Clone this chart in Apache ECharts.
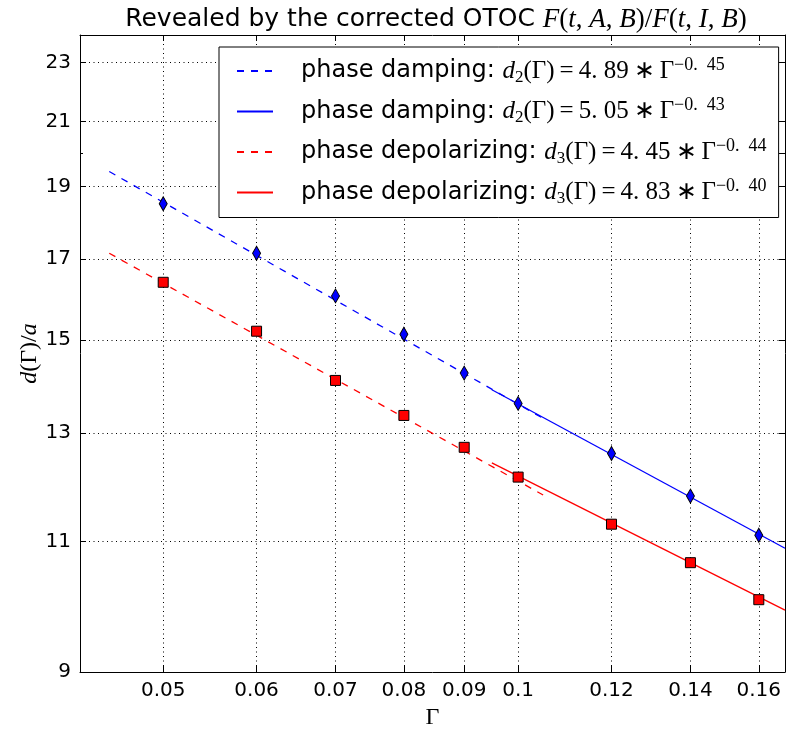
<!DOCTYPE html>
<html><head><meta charset="utf-8">
<script src="https://cdn.jsdelivr.net/npm/echarts@6/dist/echarts.min.js"></script>
<style>html,body{margin:0;padding:0;background:#fff}#c{width:789px;height:730px}</style>
</head><body><div id="c"></div>
<script>
// ---- data ----
const gammaValues = [0.05, 0.06, 0.07, 0.08, 0.09, 0.1, 0.12, 0.14, 0.16];
const dampingValues = [18.51, 17.15, 16.06, 15.14, 14.26, 13.61, 12.60, 11.80, 11.11];
const depolarizingValues = [16.40, 15.21, 14.10, 13.36, 12.72, 12.15, 11.30, 10.65, 10.06];
const dampingFitDashed = [[0.045, 19.45], [0.105, 13.30]];
const dampingFitSolid = [[0.095, 13.90], [0.1684, 10.89]];
const depolFitDashed = [[0.045, 17.15], [0.105, 11.82]];
const depolFitSolid = [[0.095, 12.42], [0.1684, 9.90]];
const xTicks = [0.05, 0.06, 0.07, 0.08, 0.09, 0.1, 0.12, 0.14, 0.16];
const yTicks = [9, 11, 13, 15, 17, 19, 21, 23];
const yMinorTicks = [20];
const xRange = [0.0425, 0.1684];
const yRange = [9, 24];
const legendNames = ['damping-fit-a', 'damping-fit-b', 'depol-fit-a', 'depol-fit-b'];
const legendLabels = {
  'damping-fit-a': '{t|phase damping: }{m|d}{sub|2}{r|(Γ)}{op|=}{r|4. 89}{op|∗}{r|Γ}{sup|−0.  45}',
  'damping-fit-b': '{t|phase damping: }{m|d}{sub|2}{r|(Γ)}{op|=}{r|5. 05}{op|∗}{r|Γ}{sup|−0.  43}',
  'depol-fit-a': '{t|phase depolarizing: }{m|d}{sub|3}{r|(Γ)}{op|=}{r|4. 45}{op|∗}{r|Γ}{sup|−0.  44}',
  'depol-fit-b': '{t|phase depolarizing: }{m|d}{sub|3}{r|(Γ)}{op|=}{r|4. 83}{op|∗}{r|Γ}{sup|−0.  40}'
};

const SANS = 'DejaVu Sans';
const SERIF = 'Liberation Serif';
const richText = {
  t: {fontFamily: SANS, fontSize: 24, color: '#000', lineHeight: 30, padding: [0, 0, 0, 23]},
  m: {fontFamily: SERIF, fontStyle: 'italic', fontSize: 25, color: '#000', lineHeight: 30},
  r: {fontFamily: SERIF, fontSize: 25, color: '#000', lineHeight: 30},
  op: {fontFamily: SERIF, fontSize: 25, color: '#000', lineHeight: 30, padding: [0, 5, 0, 5]},
  sub: {fontFamily: SERIF, fontSize: 17, color: '#000', verticalAlign: 'bottom', lineHeight: 17},
  sup: {fontFamily: SERIF, fontSize: 18, color: '#000', verticalAlign: 'top', lineHeight: 18}
};

const chart = echarts.init(document.getElementById('c'), null, {renderer: 'canvas'});
const axisLine = {show: true, onZero: false, lineStyle: {color: '#000', width: 1}};
const grid = {left: 80, right: 4, top: 35, bottom: 58, containLabel: false, outerBoundsMode: 'none'};

function xAxisCfg(pos, withLabels) {
  return {
    type: 'log', logBase: 10, min: xRange[0], max: xRange[1], position: pos, gridIndex: 0,
    axisLine: axisLine,
    axisTick: {show: true, inside: true, length: 6, customValues: xTicks, lineStyle: {color: '#000'}},
    axisLabel: {show: withLabels, customValues: xTicks, formatter: v => String(+v.toFixed(2)),
      fontFamily: SANS, fontSize: 20, color: '#000', margin: 9},
    splitLine: {show: withLabels, lineStyle: {color: '#000', type: [1, 3.5], width: 1}},
    minorTick: {show: false}, minorSplitLine: {show: false},
    name: withLabels ? 'Γ' : '', nameLocation: 'middle', nameGap: 34, nameMoveOverlap: false,
    nameTextStyle: {fontFamily: SERIF, fontSize: 24, color: '#000'}
  };
}
function yAxisCfg(pos, ticks, withLabels, tickLen, showLine) {
  return {
    type: 'log', logBase: 10, min: yRange[0], max: yRange[1], position: pos, gridIndex: 0,
    axisLine: Object.assign({}, axisLine, {show: showLine}),
    axisTick: {show: true, inside: true, length: tickLen, customValues: ticks, lineStyle: {color: '#000'}},
    axisLabel: {show: withLabels, customValues: ticks, formatter: v => String(Math.round(v)),
      fontFamily: SANS, fontSize: 20, color: '#000', margin: 9},
    splitLine: {show: withLabels, lineStyle: {color: '#000', type: [1, 3.5], width: 1}},
    minorTick: {show: false}, minorSplitLine: {show: false},
    name: withLabels ? '{m|d}{r|(Γ)/}{m|a}' : '', nameLocation: 'middle', nameGap: 38, nameRotate: 90,
    nameMoveOverlap: false,
    nameTextStyle: {rich: {m: {fontFamily: SERIF, fontStyle: 'italic', fontSize: 24, color: '#000'},
                           r: {fontFamily: SERIF, fontSize: 24, color: '#000'}}}
  };
}

const lineSeries = (name, data, color, dashed) => ({
  name: name, type: 'line', data: data, xAxisIndex: 0, yAxisIndex: 0,
  showSymbol: false, symbol: 'none', silent: true, z: 2,
  lineStyle: {color: color, width: 1.3, type: dashed ? [7, 7] : 'solid'},
  itemStyle: {color: color}
});

const option = {
  animation: false,
  backgroundColor: '#fff',
  title: {
    text: '{t|Revealed by the corrected OTOC }{m|F}{r|(}{m|t}{r|, }{m|A}{r|, }{m|B}{r|)/}{m|F}{r|(}{m|t}{r|, }{m|I}{r|, }{m|B}{r|)}',
    left: 431, top: 1, textAlign: 'center',
    textStyle: {fontWeight: 'normal', rich: {
      t: {fontFamily: SANS, fontSize: 25, fontWeight: 'normal', color: '#000'},
      m: {fontFamily: SERIF, fontStyle: 'italic', fontWeight: 'normal', fontSize: 27, color: '#000'},
      r: {fontFamily: SERIF, fontWeight: 'normal', fontSize: 27, color: '#000'}
    }}
  },
  grid: grid,
  xAxis: [xAxisCfg('bottom', true), xAxisCfg('top', false)],
  yAxis: [yAxisCfg('left', yTicks, true, 6, true), yAxisCfg('right', yTicks.concat(yMinorTicks), false, 6, true),
          yAxisCfg('left', yMinorTicks, false, 3, false)],
  legend: {
    orient: 'vertical', left: 219, top: 47,
    data: legendNames, itemWidth: 36, itemHeight: 14, itemGap: 10.5,
    padding: [9, 12, 10, 17],
    borderColor: '#000', borderWidth: 1, backgroundColor: '#fff', borderRadius: 0,
    formatter: name => legendLabels[name],
    textStyle: {rich: richText},
    itemStyle: {opacity: 0, borderWidth: 0},
    selectedMode: false
  },
  series: [
    lineSeries(legendNames[0], dampingFitDashed, '#0000ff', true),
    lineSeries(legendNames[1], dampingFitSolid, '#0000ff', false),
    lineSeries(legendNames[2], depolFitDashed, '#ff0000', true),
    lineSeries(legendNames[3], depolFitSolid, '#ff0000', false),
    {name: 'damping-data', type: 'scatter', data: gammaValues.map((g, i) => [g, dampingValues[i]]),
     symbol: 'diamond', symbolSize: [8, 14], z: 5,
     itemStyle: {color: '#0000ff', borderColor: '#000', borderWidth: 1, opacity: 1}},
    {name: 'depol-data', type: 'scatter', data: gammaValues.map((g, i) => [g, depolarizingValues[i]]),
     symbol: 'rect', symbolSize: 10, z: 5,
     itemStyle: {color: '#ff0000', borderColor: '#000', borderWidth: 1, opacity: 1}}
  ]
};
chart.setOption(option);
</script>
</body></html>
